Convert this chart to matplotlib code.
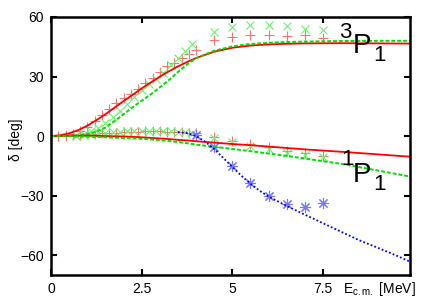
import numpy as np
import matplotlib
matplotlib.use("Agg")
import matplotlib.pyplot as plt

plt.rcParams['font.family'] = ['Liberation Sans', 'DejaVu Sans']

# 3P1 data (red +, green x)
e_r = [0.0, 0.2, 0.4, 0.6, 0.8, 1.0, 1.2, 1.4, 1.6, 1.8, 2.0, 2.2, 2.4, 2.6, 2.8,
       3.0, 3.2, 3.4, 3.6, 3.8, 4.0, 4.5, 5.0, 5.5, 6.0, 6.5, 7.0, 7.5]
p3_r = [0, 0.1, 0.4, 1.2, 2.6, 4.8, 7.6, 10.6, 13.8, 16.8, 19.2, 21.4, 23.6, 26.5, 29.3,
        32.2, 35.2, 37.0, 39.4, 41.4, 43.6, 48.5, 50.0, 51.0, 51.0, 50.6, 50.8, 49.6]
p1_r = [0, 0.1, 0.2, 0.4, 0.6, 0.9, 1.1, 1.4, 1.6, 1.8, 2.0, 2.2, 2.3, 2.4, 2.4,
        2.4, 2.3, 2.1, 1.9, 1.6, 1.3, -0.3, -2.3, -4.0, -5.6, -7.3, -8.6, -9.8]

e_g = [0.7, 0.9, 1.1, 1.3, 1.5, 1.7, 1.9, 2.1, 2.3, 2.5, 2.7, 2.9, 3.1, 3.3, 3.5,
       3.7, 3.9, 4.5, 5.0, 5.5, 6.0, 6.5, 7.0, 7.5]
p3_g = [0.3, 1.2, 2.5, 4.3, 6.7, 9.5, 12.8, 16.3, 19.7, 23.0, 26.0, 28.8, 32.0, 35.8, 39.5,
        42.8, 46.2, 52.4, 55.0, 56.0, 55.8, 55.4, 54.2, 53.4]
p1_g = [0.2, 0.5, 0.9, 1.3, 1.6, 1.9, 2.2, 2.4, 2.6, 2.7, 2.8, 2.8, 2.7, 2.5, 2.2,
        1.9, 1.5, -0.9, -3.2, -4.9, -6.6, -8.6, -9.4, -10.6]

# blue * data
e_b = [4.0, 4.5, 5.0, 5.5, 6.0, 6.5, 7.0, 7.5]
p1_b = [0.3, -5.6, -15.0, -23.8, -30.3, -34.3, -35.5, -33.8]

# curves
e_line = [0, 0.25, 0.5, 0.75, 1.0, 1.25, 1.5, 1.75, 2.0, 2.25, 2.5, 2.75, 3.0, 3.25, 3.5,
          3.75, 4.0, 4.5, 5.0, 5.5, 6.0, 6.5, 7.0, 8.0, 9.0, 9.9]
p3_red = [0, 0.4, 1.4, 3.0, 5.2, 8.0, 11.0, 14.3, 17.6, 20.8, 24.0, 27.0, 29.9, 32.6, 35.1,
          37.3, 39.3, 42.5, 44.5, 45.6, 46.2, 46.5, 46.7, 46.8, 46.7, 46.6]
p3_green = [0, 0.05, 0.1, 0.3, 1.0, 2.2, 4.3, 7.5, 11.0, 14.5, 17.8, 21.0, 24.5, 28.2, 32.3,
            36.0, 39.3, 43.0, 45.2, 46.4, 47.0, 47.4, 47.6, 47.9, 48.0, 48.0]
p1_red = [0, 0.1, 0.2, 0.2, 0.2, 0.1, 0.0, -0.1, -0.2, -0.4, -0.6, -0.9, -1.2, -1.5, -1.9,
          -2.2, -2.6, -3.3, -4.0, -4.6, -5.3, -6.0, -6.7, -7.9, -9.2, -10.4]
p1_green = [0, 0.0, -0.05, -0.15, -0.3, -0.45, -0.6, -0.8, -1.0, -1.2, -1.4, -1.7, -2.0, -2.5, -3.0,
            -3.6, -4.3, -5.4, -6.5, -7.6, -8.8, -10.0, -11.3, -14.0, -17.3, -20.4]

e_blue = [3.5, 3.75, 4.0, 4.25, 4.5, 4.75, 5.0, 5.25, 5.5, 5.75, 6.0, 6.5, 7.0, 7.5, 8.0,
          8.5, 9.0, 9.5, 9.9]
p1_blue = [2.0, 1.5, 0, -2.8, -6.5, -11.0, -15.5, -20.0, -24.0, -27.5, -30.5, -35.2, -39.6, -43.9, -48.2,
           -52.5, -56.2, -60.0, -63.3]

fig = plt.figure(figsize=(4.36, 3.05), dpi=100)
ax = fig.add_axes([51/436, 30/305, 359/436, 258/305])

red_pt = '#ff7070'
green_pt = '#70ee70'
blue_pt = '#7878ff'

ax.plot(e_r, p3_r, ls='none', marker='+', ms=7, mew=0.8, color=red_pt)
ax.plot(e_g, p3_g, ls='none', marker='x', ms=6, mew=0.8, color=green_pt)
ax.plot(e_r, p1_r, ls='none', marker='+', ms=7, mew=0.8, color=red_pt)
ax.plot(e_g, p1_g, ls='none', marker='x', ms=6, mew=0.8, color=green_pt)
ax.plot(e_b, p1_b, ls='none', marker=(8, 2, 0), ms=8, mew=0.8, color=blue_pt)

ax.plot(e_line, p3_red, color='#ff0000', lw=1.3)
ax.plot(e_line, p3_green, color='#00dd00', lw=1.4, ls=(0, (2, 1)))
ax.plot(e_line, p1_red, color='#ff0000', lw=1.3)
ax.plot(e_line, p1_green, color='#00dd00', lw=1.4, ls=(0, (2, 1)))
ax.plot(e_blue, p1_blue, color='#0000ff', lw=1.3, ls=(0, (1, 1.2)))

ax.set_xlim(0, 9.9)
ax.set_ylim(-70, 60)
ax.set_xticks([0, 2.5, 5, 7.5])
ax.set_xticklabels(['0', '2.5', '5', '7.5'])
ax.set_yticks([-60, -30, 0, 30, 60])
ax.tick_params(direction='in', length=4, width=1.5, top=True, right=True,
               labelsize=10, pad=5)
for s in ax.spines.values():
    s.set_linewidth(1.8)

fig.text(16/436, 1 - 140/305, 'δ [deg]', rotation=90, ha='center', va='center', fontsize=10)
fig.text(343/436, 1 - 289/305, r'E$_{\mathregular{c.m.}}$ [MeV]', ha='left', va='center', fontsize=10)

# state labels
fig.text(339/436, 1 - 38/305, '3', fontsize=16, ha='left', va='baseline')
fig.text(353/436, 1 - 53/305, 'P', fontsize=20, ha='left', va='baseline')
fig.text(373/436, 1 - 61/305, '1', fontsize=16, ha='left', va='baseline')
fig.text(341/436, 1 - 165/305, '1', fontsize=16, ha='left', va='baseline')
fig.text(353/436, 1 - 182/305, 'P', fontsize=20, ha='left', va='baseline')
fig.text(373/436, 1 - 190/305, '1', fontsize=16, ha='left', va='baseline')

fig.savefig('out.png', dpi=100)
